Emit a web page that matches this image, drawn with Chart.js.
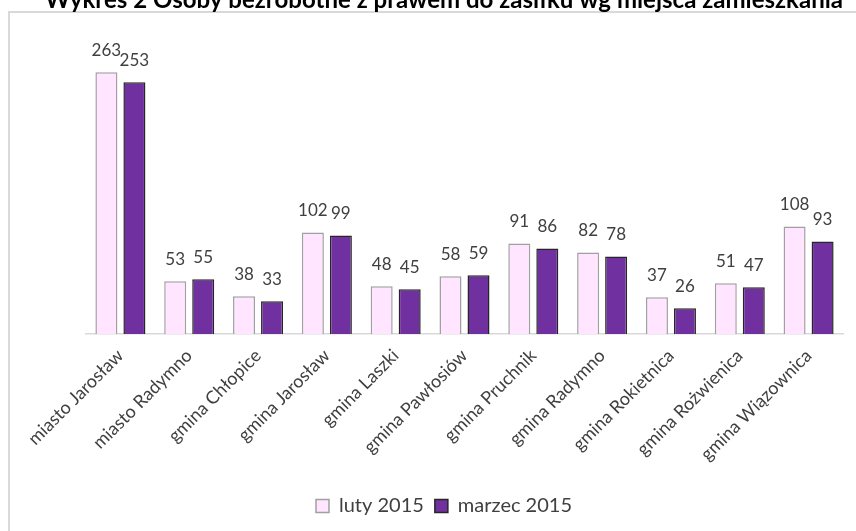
<!DOCTYPE html>
<html>
<head>
<meta charset="utf-8">
<script src="https://cdn.jsdelivr.net/npm/chart.js@4"></script>
<style>
  body { margin: 0; overflow: hidden; background: #fff; }
  #wykres { position: absolute; left: 0; top: -12px; }
</style>
</head>
<body>
<canvas id="wykres" width="856" height="543"></canvas>
<script>
const categories = ['miasto Jarosław', 'miasto Radymno', 'gmina Chłopice', 'gmina Jarosław', 'gmina Laszki',
    'gmina Pawłosiów', 'gmina Pruchnik', 'gmina Radymno', 'gmina Rokietnica', 'gmina Rożwienica', 'gmina Wiązownica'];
const luty2015 = [263, 53, 38, 102, 48, 58, 91, 82, 37, 51, 108];
const marzec2015 = [253, 55, 33, 99, 45, 59, 86, 78, 26, 47, 93];
const seriesNames = ['luty 2015', 'marzec 2015'];
const chartTitle = 'Wykres 2 Osoby bezrobotne z prawem do zasiłku wg miejsca zamieszkania';

const FONT = 'Lato, "Open Sans", sans-serif';

// ramka wykresu (jak w Excelu)
const framePlugin = {
    id: 'frame',
    beforeDraw(chart) {
        const ctx = chart.ctx;
        ctx.save();
        ctx.fillStyle = '#fff';
        ctx.fillRect(0, 0, chart.width, chart.height);
        ctx.strokeStyle = '#d9d9d9';
        ctx.lineWidth = 2;
        ctx.strokeRect(9, 24, chart.width + 20, chart.height + 20);
        ctx.restore();
    }
};

// etykiety wartości nad słupkami
const valueLabels = {
    id: 'valueLabels',
    afterDatasetsDraw(chart) {
        const ctx = chart.ctx;
        ctx.save();
        ctx.font = '17px ' + FONT;
        ctx.fillStyle = '#404040';
        ctx.textAlign = 'center';
        ctx.textBaseline = 'middle';
        chart.data.datasets.forEach((ds, i) => {
            chart.getDatasetMeta(i).data.forEach((bar, j) => {
                ctx.fillText(ds.data[j], bar.x, bar.y - 22);
            });
        });
        ctx.restore();
    }
};

new Chart(document.getElementById('wykres').getContext('2d'), {
    type: 'bar',
    data: {
        labels: categories,
        datasets: [{
            label: seriesNames[0],
            data: luty2015,
            backgroundColor: '#ffe5ff',
            borderColor: '#a0a0a0',
            borderWidth: 1.5,
            borderSkipped: 'bottom'
        }, {
            label: seriesNames[1],
            data: marzec2015,
            backgroundColor: '#7030a0',
            borderColor: '#262626',
            borderWidth: 1.5,
            borderSkipped: 'bottom'
        }]
    },
    options: {
        responsive: false,
        animation: false,
        devicePixelRatio: 1,
        categoryPercentage: 0.814,
        barPercentage: 0.786,
        layout: { padding: { left: 45, right: 13, top: 0, bottom: 5 } },
        plugins: {
            title: {
                display: true,
                text: chartTitle,
                align: 'end',
                color: '#000',
                font: { family: FONT, size: 24.5, weight: 'bold' },
                padding: { top: -3, bottom: 21 }
            },
            legend: {
                position: 'bottom',
                labels: {
                    color: '#404040',
                    font: { family: FONT, size: 20 },
                    boxWidth: 13,
                    boxHeight: 13,
                    padding: 11
                }
            },
            tooltip: { enabled: false }
        },
        scales: {
            x: {
                grid: { display: false },
                border: { color: '#d9d9d9', width: 1.5 },
                ticks: {
                    color: '#404040',
                    font: { family: FONT, size: 18 },
                    minRotation: 45,
                    maxRotation: 45,
                    autoSkip: false
                },
                afterFit(scale) { scale.height += 17; }
            },
            y: {
                display: true,
                min: 0,
                max: 300,
                grid: { display: false },
                border: { display: false },
                ticks: { display: false },
                afterFit(scale) { scale.width = 41; }
            }
        }
    },
    plugins: [framePlugin, valueLabels]
});
</script>
</body>
</html>
